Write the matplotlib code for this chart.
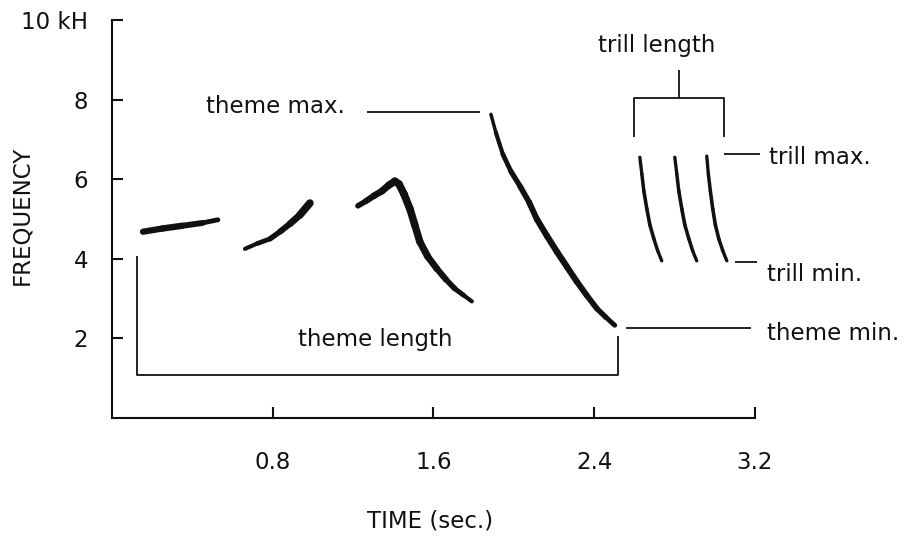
import numpy as np
import matplotlib
matplotlib.use('Agg')
import matplotlib.pyplot as plt
from matplotlib.collections import LineCollection

# song elements, time (s) vs frequency (kHz)
syl1_t = [0.154, 0.25, 0.35, 0.45, 0.527]
syl1_f = [4.68, 4.76, 4.83, 4.90, 4.98]

syl2_t = [0.662, 0.721, 0.786, 0.836, 0.886, 0.935, 0.985]
syl2_f = [4.25, 4.38, 4.50, 4.68, 4.88, 5.10, 5.40]

syl3_t = [1.224, 1.264, 1.303, 1.343, 1.378, 1.408, 1.428, 1.453, 1.483,
          1.507, 1.532, 1.572, 1.617, 1.662, 1.706, 1.751, 1.791]
syl3_f = [5.33, 5.45, 5.58, 5.70, 5.85, 5.95, 5.88, 5.63, 5.25,
          4.85, 4.43, 4.05, 3.75, 3.48, 3.25, 3.08, 2.93]

syl4_t = [1.886, 1.910, 1.945, 1.985, 2.030, 2.075, 2.114, 2.164,
          2.214, 2.264, 2.313, 2.363, 2.413, 2.458, 2.502]
syl4_f = [7.63, 7.18, 6.63, 6.20, 5.83, 5.43, 5.00, 4.58,
          4.18, 3.80, 3.43, 3.08, 2.75, 2.53, 2.33]

trill1_t = [2.627, 2.637, 2.647, 2.662, 2.677, 2.697, 2.716, 2.736]
trill1_f = [6.55, 6.13, 5.70, 5.25, 4.85, 4.50, 4.20, 3.95]
trill2_t = [2.801, 2.811, 2.821, 2.836, 2.851, 2.871, 2.890, 2.910]
trill2_f = [6.55, 6.13, 5.70, 5.25, 4.85, 4.50, 4.20, 3.95]
trill3_t = [2.960, 2.968, 2.978, 2.990, 3.003, 3.020, 3.040, 3.060]
trill3_f = [6.58, 6.13, 5.70, 5.25, 4.85, 4.50, 4.20, 3.95]

xticks = [0.8, 1.6, 2.4, 3.2]
yticks = [2, 4, 6, 8, 10]
yticklabels = ['2', '4', '6', '8', '10 kH']

# measurement markers
theme_max = 7.70
theme_min = 2.25
trill_max = 6.63
trill_min = 3.93
theme_start, theme_end = 0.124, 2.52
trill_start, trill_end = 2.60, 3.045

plt.rcParams['font.family'] = 'DejaVu Sans'
ink = '#111111'
fs = 16.5


def stroke(ax, xs, ys, w0, w1, w2):
    xs = np.asarray(xs)
    ys = np.asarray(ys)
    pts = np.column_stack([xs, ys]).reshape(-1, 1, 2)
    segs = np.concatenate([pts[:-1], pts[1:]], axis=1)
    n = len(segs)
    s = np.linspace(0, 1, n)
    w = (1 - s) ** 2 * w0 + 2 * s * (1 - s) * w1 + s ** 2 * w2
    lc = LineCollection(segs, linewidths=w, colors=ink,
                        capstyle='round', joinstyle='round')
    ax.add_collection(lc)


fig = plt.figure(figsize=(9.06, 5.37), dpi=100)
ax = fig.add_axes([0.1236, 0.2216, 0.7097, 0.7412])
ax.set_xlim(0, 3.2)
ax.set_ylim(0, 10)

for side in ['top', 'right']:
    ax.spines[side].set_visible(False)
for side in ['left', 'bottom']:
    ax.spines[side].set_linewidth(1.5)
    ax.spines[side].set_color(ink)

ax.set_xticks(xticks)
ax.set_xticklabels(['%.1f' % v for v in xticks])
ax.set_yticks(yticks)
ax.set_yticklabels(yticklabels)
ax.tick_params(axis='both', direction='in', length=8, width=1.5,
               color=ink, labelsize=fs, labelcolor=ink)
ax.tick_params(axis='x', pad=24)
ax.tick_params(axis='y', pad=17)

# sonogram traces
stroke(ax, syl1_t, syl1_f, 4.5, 5.0, 3.5)
stroke(ax, syl2_t, syl2_f, 3.0, 4.0, 5.5)
stroke(ax, syl3_t, syl3_f, 4.0, 7.5, 3.0)
stroke(ax, syl4_t, syl4_f, 2.5, 6.0, 3.5)
for tt, ff in [(trill1_t, trill1_f), (trill2_t, trill2_f),
               (trill3_t, trill3_f)]:
    stroke(ax, tt, ff, 2.4, 2.8, 2.4)

lk = dict(color=ink, lw=1.3, clip_on=False, solid_capstyle='butt')

# theme max / min
ax.plot([1.27, 1.83], [theme_max, theme_max], **lk)
ax.plot([2.56, 3.18], [theme_min, theme_min], **lk)
ax.text(1.16, theme_max - 0.03, 'theme max.', ha='right', va='baseline',
        fontsize=fs, color=ink, clip_on=False)
ax.text(3.26, 1.95, 'theme min.', ha='left', va='baseline',
        fontsize=fs, color=ink, clip_on=False)

# theme length bracket
ax.plot([theme_start, theme_start, theme_end, theme_end],
        [4.08, 1.08, 1.08, 2.05], **lk)
ax.text(1.31, 1.8, 'theme length', ha='center', va='baseline',
        fontsize=fs, color=ink)

# trill length bracket
ax.plot([trill_start, trill_start, trill_end, trill_end],
        [7.07, 8.05, 8.05, 7.07], **lk)
ax.plot([2.82, 2.82], [8.05, 8.75], **lk)
ax.text(2.71, 9.2, 'trill length', ha='center', va='baseline',
        fontsize=fs, color=ink, clip_on=False)

# trill max / min
ax.plot([trill_end, 3.224], [trill_max, trill_max], **lk)
ax.plot([3.10, 3.21], [trill_min, trill_min], **lk)
ax.text(3.27, 6.375, 'trill max.', ha='left', va='baseline',
        fontsize=fs, color=ink, clip_on=False)
ax.text(3.26, 3.45, 'trill min.', ha='left', va='baseline',
        fontsize=fs, color=ink, clip_on=False)

fig.text(430 / 906, (537 - 528) / 537, 'TIME (sec.)', ha='center',
         va='baseline', fontsize=fs, color=ink)
fig.text(22 / 906, 1 - 215 / 537, 'FREQUENCY', ha='center', va='center',
         rotation=90, fontsize=fs, color=ink)

fig.savefig('out.png', dpi=100)
